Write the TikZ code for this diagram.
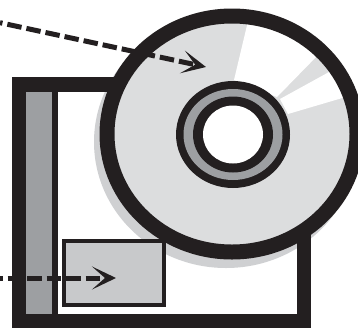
\documentclass[tikz,border=0pt]{standalone}
\usepackage{tikz}
\usetikzlibrary{positioning,shapes.geometric,arrows.meta}
\definecolor{ink}{HTML}{231F20}
\definecolor{discgray}{HTML}{DCDDDE}
\definecolor{shadowgray}{HTML}{CFD0D2}
\definecolor{boxgray}{HTML}{C8C9CB}
\definecolor{stripgray}{HTML}{9D9FA2}
\begin{document}
\begin{tikzpicture}[
        x=1pt, y=-1pt,
        blob/.style={ellipse, inner sep=0pt, outer sep=0pt},
        plate/.style={rectangle, inner sep=0pt, outer sep=0pt},
        arr/.style={-{Stealth[length=24pt, width=23pt, inset=13pt]}, draw=ink, line width=5pt,
                    dash pattern=on 14.5pt off 5pt, dash phase=12pt},
    ]
    \clip (0,0) rectangle (358,327);
    \fill[white] (0,0) rectangle (358,327);

    % --- Frame ---
    \node[blob, fill=shadowgray, minimum width=264pt, minimum height=252pt] (shadow) at (226,142) {};
    \node[plate, fill=stripgray, minimum width=26pt, minimum height=223pt] (strip) at (39,203.5) {};
    \node[plate, draw=ink, line width=14.5pt, minimum width=285pt, minimum height=237pt] (frame) at (161.5,203) {};
    \node[plate, fill=ink, minimum width=6pt, minimum height=223pt, right=0pt of strip] (divider) {};
    \node[plate, draw=ink, fill=boxgray, line width=4pt, minimum width=100pt, minimum height=64pt] (slot) at (114,273) {};

    % --- Disc ---
    \node[blob, fill=discgray, minimum width=250pt, minimum height=236pt] (disc) at (232,134) {};
    \begin{scope}
        \clip (232,134) ellipse [x radius=125pt, y radius=118pt];
        \fill[white] (234,80) -- (253,0) -- (365,7) -- (277,97) -- cycle;
        \fill[white] (280,99) -- (400,33) -- (400,81) -- (288,114) -- cycle;
    \end{scope}
    \node[blob, draw=ink, line width=15pt, minimum width=250pt, minimum height=236pt] (ring) at (disc) {};
    \node[blob, fill=ink, minimum width=114pt, minimum height=107pt] (hub) at (233,134.5) {};
    \node[blob, fill=stripgray, minimum width=99pt, minimum height=91pt] (band) at (hub) {};
    \node[blob, fill=ink, minimum width=80pt, minimum height=76pt] (collar) at (hub) {};
    \node[blob, fill=white, minimum width=60pt, minimum height=58pt] (hole) at (hub) {};

    % --- Arrows ---
    \coordinate (upper) at (0,22.7);
    \coordinate (lower) at (0,278);
    \coordinate (upperend) at (206,67);
    \coordinate (lowerend) at (116,278);
    \draw[arr] (upper) -- (upperend);
    \draw[arr] (lower) -- (lowerend);
\end{tikzpicture}
\end{document}
